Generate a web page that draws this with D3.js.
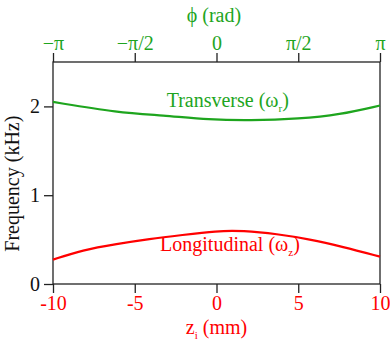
<!DOCTYPE html>
<html>
<head>
<meta charset="utf-8">
<script src="https://cdn.jsdelivr.net/npm/d3@7"></script>
<style>
  body { margin: 0; background: #fff; }
</style>
</head>
<body>
<div id="chart"></div>
<script>
// Chart globals
const CHART_WIDTH = 390
const CHART_HEIGHT = 349
const GREEN = "#1ea51e"
const RED = "#ff0000"
const FONT = "'Liberation Serif', 'Times New Roman', Times, 'DejaVu Serif', serif"
const FONT_SIZE = 20

// data: z position (mm) and frequency (kHz)
const transverseZ = [-10, -6, -3.3, -0.4, 2, 5.1, 7.5, 10]
const transverseF = [2.05, 1.93, 1.90, 1.85, 1.84, 1.86, 1.905, 2.01]
const longitudinalZ = [-10, -8.2, -6.1, -4.1, -2.1, 0, 1.6, 3.7, 5.7, 7.7, 10]
const longitudinalF = [0.274, 0.383, 0.451, 0.507, 0.552, 0.598, 0.601, 0.564, 0.504, 0.42, 0.308]

const bottomTicks = [-10, -5, 0, 5, 10]
const topTicks = [-Math.PI, -Math.PI / 2, 0, Math.PI / 2, Math.PI]
const topTickLabels = ["\u2212\u03c0", "\u2212\u03c0/2", "0", "\u03c0/2", "\u03c0"]
const yTicks = [0, 1, 2]

const marginTop = 62
const marginRight = 10
const marginBottom = 65
const marginLeft = 53

const svg = d3.select("#chart").append("svg")
  .attr("width", CHART_WIDTH)
  .attr("height", CHART_HEIGHT)
  .attr("font-family", FONT)

const x = d3.scaleLinear()
  .domain([-10, 10])
  .range([marginLeft, CHART_WIDTH - marginRight])

const xPhi = d3.scaleLinear()
  .domain([-Math.PI, Math.PI])
  .range([marginLeft, CHART_WIDTH - marginRight])

const y = d3.scaleLinear()
  .domain([0, 2.5])
  .range([CHART_HEIGHT - marginBottom, marginTop])

// frame
svg.append("rect")
  .attr("x", marginLeft)
  .attr("y", marginTop)
  .attr("width", CHART_WIDTH - marginRight - marginLeft)
  .attr("height", CHART_HEIGHT - marginBottom - marginTop)
  .attr("fill", "none")
  .attr("stroke", "#222")
  .attr("stroke-width", 1.3)

function styleAxis (g, color) {
  g.attr("font-family", FONT).attr("font-size", FONT_SIZE)
  g.select(".domain").remove()
  g.selectAll(".tick line").attr("stroke", "#222").attr("stroke-width", 1.3)
  g.selectAll(".tick text").attr("fill", color)
}

// bottom axis (z) -- plain hyphen minus as in the original
svg.append("g")
  .attr("transform", `translate(0,${CHART_HEIGHT - marginBottom})`)
  .call(d3.axisBottom(x).tickValues(bottomTicks).tickSize(9).tickPadding(3).tickFormat(d => String(d)))
  .call(g => styleAxis(g, RED))

// top axis (phi)
svg.append("g")
  .attr("transform", `translate(0,${marginTop})`)
  .call(d3.axisTop(xPhi).tickValues(topTicks).tickSize(9).tickPadding(3)
    .tickFormat((d, i) => topTickLabels[i]))
  .call(g => styleAxis(g, GREEN))

// left axis
svg.append("g")
  .attr("transform", `translate(${marginLeft},0)`)
  .call(d3.axisLeft(y).tickValues(yTicks).tickSize(9).tickPadding(4).tickFormat(d => String(d)))
  .call(g => styleAxis(g, "#111"))

// curves
const line = d3.line()
  .x(d => x(d[0]))
  .y(d => y(d[1]))
  .curve(d3.curveBasis)

svg.append("path")
  .datum(transverseZ.map((z, i) => [z, transverseF[i]]))
  .attr("d", line)
  .attr("fill", "none")
  .attr("stroke", GREEN)
  .attr("stroke-width", 2.2)

svg.append("path")
  .datum(longitudinalZ.map((z, i) => [z, longitudinalF[i]]))
  .attr("d", line)
  .attr("fill", "none")
  .attr("stroke", RED)
  .attr("stroke-width", 2.2)

// text with a small subscript
function subLabel (px, py, color, main, sub, tail) {
  const t = svg.append("text")
    .attr("x", px)
    .attr("y", py)
    .attr("fill", color)
    .attr("font-size", FONT_SIZE)
  t.append("tspan").text(main)
  t.append("tspan").attr("dy", 5).attr("font-size", 11).text(sub)
  t.append("tspan").attr("dy", -5).text(tail)
  return t
}

subLabel(x(-3.05), y(1.99), GREEN, "Transverse (\u03c9", "r", ")")
subLabel(x(-3.45), y(0.37), RED, "Longitudinal (\u03c9", "z", ")")

// axis titles
svg.append("text")
  .attr("x", xPhi(-0.05))
  .attr("y", 22)
  .attr("text-anchor", "middle")
  .attr("fill", GREEN)
  .attr("font-size", FONT_SIZE)
  .text("\u03d5 (rad)")

subLabel(x(0), 334, RED, "z", "i", " (mm)").attr("text-anchor", "middle")

svg.append("text")
  .attr("transform", `translate(19,${y(1.13)}) rotate(-90)`)
  .attr("text-anchor", "middle")
  .attr("fill", "#111")
  .attr("font-size", FONT_SIZE)
  .text("Frequency (kHz)")
</script>
</body>
</html>
